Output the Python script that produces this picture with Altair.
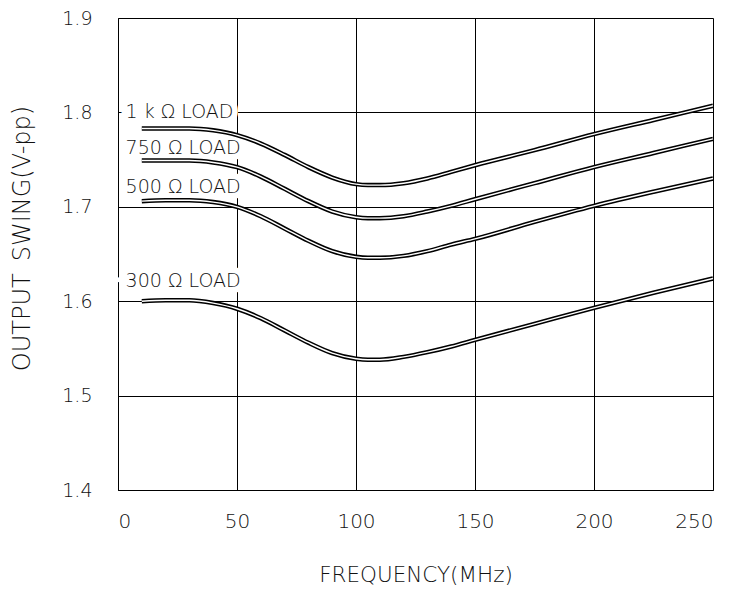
import altair as alt
import pandas as pd

freq = [10, 20, 30, 40, 50, 60, 70, 80, 90, 100, 105, 110, 120, 130, 140, 150, 175, 200, 225, 250]
load_1k = [1.783, 1.783, 1.783, 1.781, 1.776, 1.767, 1.755, 1.742, 1.731, 1.724, 1.723, 1.723, 1.725, 1.730, 1.737, 1.744, 1.760, 1.777, 1.792, 1.807]
load_750 = [1.749, 1.749, 1.749, 1.747, 1.742, 1.732, 1.719, 1.706, 1.695, 1.689, 1.688, 1.688, 1.690, 1.695, 1.701, 1.708, 1.725, 1.742, 1.757, 1.772]
load_500 = [1.706, 1.707, 1.707, 1.705, 1.700, 1.690, 1.677, 1.664, 1.653, 1.647, 1.646, 1.646, 1.648, 1.653, 1.660, 1.666, 1.684, 1.701, 1.716, 1.730]
load_300 = [1.600, 1.601, 1.601, 1.598, 1.592, 1.582, 1.569, 1.556, 1.545, 1.539, 1.538, 1.538, 1.541, 1.546, 1.552, 1.559, 1.576, 1.593, 1.609, 1.624]

series_names = ["1k", "750", "500", "300"]
label_texts = ["1 k \u03a9 LOAD", "750 \u03a9 LOAD", "500 \u03a9 LOAD", "300 \u03a9 LOAD"]
label_x = [3.2, 3.2, 3.2, 3.2]
label_y = [1.8, 1.762, 1.721, 1.621]

rows = []
for name, vals in zip(series_names, [load_1k, load_750, load_500, load_300]):
    for f, v in zip(freq, vals):
        rows.append({"f": f, "v": v, "s": name})
df = pd.DataFrame(rows)
lab = pd.DataFrame({"f": label_x, "v": label_y, "t": label_texts})

FONT = "DejaVu Sans"
FW = 200
TXT = "#111"
xs = alt.Scale(domain=[0, 250], nice=False, zero=False)
ys = alt.Scale(domain=[1.4, 1.9], nice=False, zero=False)

x_enc = alt.X("f:Q", scale=xs, axis=alt.Axis(
    values=[0, 50, 100, 150, 200, 250], title="FREQUENCY(MHz)", grid=True,
    gridColor="black", gridOpacity=1, domainColor="black", tickSize=0,
    labelPadding=21, labelFontSize=20, labelFont=FONT, labelFontWeight=FW, labelColor=TXT,
    titleFontSize=21.5, titleFont=FONT, titleFontWeight=FW, titleColor=TXT,
    titleY=85, titleBaseline="middle"))
y_enc = alt.Y("v:Q", scale=ys, axis=alt.Axis(
    values=[1.4, 1.5, 1.6, 1.7, 1.8, 1.9], format=".1f", title="OUTPUT\u2002SWING(V-pp)", grid=True,
    gridColor="black", gridOpacity=1, domainColor="black", tickSize=0,
    labelPadding=26, labelFontSize=19, labelFont=FONT, labelFontWeight=FW, labelColor=TXT,
    titleFontSize=24, titleFont=FONT, titleFontWeight=FW, titleColor=TXT,
    titleX=-96, titleY=220, titleAngle=-90, titleAlign="center", titleBaseline="middle"))
xp = alt.X("f:Q", scale=xs)
yp = alt.Y("v:Q", scale=ys)

lab_bg = alt.Chart(lab).mark_text(align="left", baseline="middle", fontSize=19, font=FONT,
                                  fontWeight=FW, stroke="white", strokeWidth=12, fill="white").encode(
    x=x_enc, y=y_enc, text="t:N")

base = alt.Chart(df)
outer = base.mark_line(color="black", strokeWidth=4.5, interpolate="monotone").encode(
    x=xp, y=yp, detail="s:N")
inner = base.mark_line(color="white", strokeWidth=1.4, interpolate="monotone").encode(
    x=xp, y=yp, detail="s:N")

lab_fg = alt.Chart(lab).mark_text(align="left", baseline="middle", fontSize=19, font=FONT,
                                  fontWeight=FW, color=TXT).encode(
    x=xp, y=yp, text="t:N")

chart = alt.layer(lab_bg, outer, inner, lab_fg).properties(
    width=595, height=472,
    autosize=alt.AutoSizeParams(type="none"),
    padding={"left": 110, "top": 10, "right": 15, "bottom": 96},
).configure_view(stroke="black", strokeWidth=1).configure(background="white")

chart.save("out.html", embed_options={"renderer": "svg", "actions": False})
